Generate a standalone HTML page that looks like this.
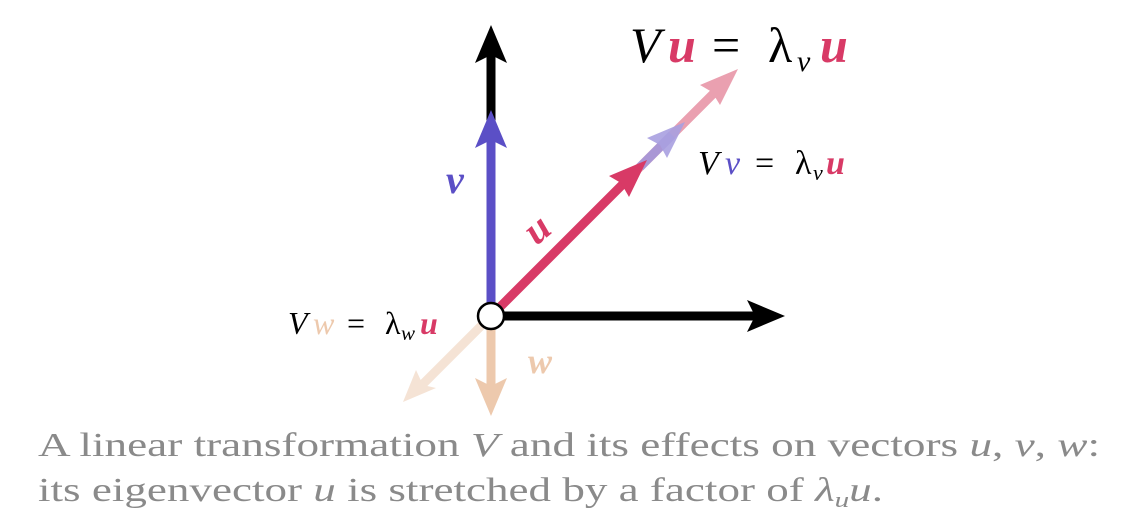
<!DOCTYPE html>
<html><head><meta charset="utf-8"><style>
html,body{margin:0;padding:0;background:#fff;width:1130px;height:529px;overflow:hidden}
text{font-family:"Liberation Serif",serif}
</style></head><body>
<svg width="1130" height="529" viewBox="0 0 1130 529">
<g id="vecs">
<line x1="491" y1="316" x2="418" y2="389" stroke="#f5e3d5" stroke-width="9"/>
<polygon points="403,402 416,370 423,385 436,388" fill="#f5e3d5"/>
<line x1="491" y1="316" x2="491" y2="390" stroke="#edc9ad" stroke-width="9"/>
<polygon points="491,416 475,378 491,386 507,378" fill="#edc9ad"/>
<line x1="491" y1="316" x2="491" y2="55" stroke="#000" stroke-width="9"/>
<polygon points="491,25 475,63 491,55 507,63" fill="#000"/>
<line x1="491" y1="316" x2="760" y2="316" stroke="#000" stroke-width="9"/>
<polygon points="785,316 747,300 755,316 747,332" fill="#000"/>
<line x1="491" y1="316" x2="491" y2="140" stroke="#5b4fc6" stroke-width="9"/>
<polygon points="491,110 475,148 491,140 507,148" fill="#5b4fc6"/>
<line x1="491" y1="316" x2="720" y2="87" stroke="#eaa0b0" stroke-width="9"/>
<polygon points="738,69 700,85 712,92 720,105" fill="#eaa0b0"/>
<line x1="640" y1="167" x2="672" y2="135" stroke="#9f95dc" stroke-opacity="0.85" stroke-width="9"/>
<polygon points="685,122 647,138 660,145 667,158" fill="#a8a0e0" fill-opacity="0.9"/>
<line x1="491" y1="316" x2="630" y2="177" stroke="#d83a66" stroke-width="9"/>
<polygon points="647,160 609,176 621,183 629,197" fill="#d83a66"/>
<circle cx="491" cy="316" r="13" fill="#fff" stroke="#000" stroke-width="2.5"/>
</g>
<text y="62" font-size="50" font-style="italic"><tspan x="630">V</tspan><tspan x="668" fill="#d83a66" font-weight="bold">u</tspan><tspan x="712" font-style="normal">=</tspan><tspan x="768" font-style="normal">λ</tspan><tspan x="797" font-size="30" dy="9">v</tspan><tspan x="820" fill="#d83a66" font-weight="bold" dy="-9">u</tspan></text>
<text y="174" font-size="34" font-style="italic"><tspan x="698">V</tspan><tspan x="725" fill="#5b4fc6">v</tspan><tspan x="755" font-style="normal">=</tspan><tspan x="795" font-style="normal">λ</tspan><tspan x="813" font-size="22" dy="6">v</tspan><tspan x="826" fill="#d83a66" font-weight="bold" dy="-6">u</tspan></text>
<text y="334" font-size="32" font-style="italic"><tspan x="288">V</tspan><tspan x="313" fill="#edc9ad">w</tspan><tspan x="347" font-style="normal">=</tspan><tspan x="385" font-style="normal">λ</tspan><tspan x="401" font-size="21" dy="6">w</tspan><tspan x="420" fill="#d83a66" font-weight="bold" dy="-6">u</tspan></text>
<text x="446" y="193" font-size="40" font-style="italic" font-weight="bold" fill="#5b4fc6">v</text>
<text x="527" y="240" font-size="40" font-style="italic" font-weight="bold" fill="#d83a66" transform="rotate(-40 540 230)">u</text>
<text x="528" y="373" font-size="36" font-style="italic" font-weight="bold" fill="#edc9ad">w</text>
<text x="38" y="456" font-size="34" fill="#8a8a8a" textLength="1062" lengthAdjust="spacingAndGlyphs">A linear transformation <tspan font-style="italic">V</tspan> and its effects on vectors <tspan font-style="italic">u</tspan>, <tspan font-style="italic">v</tspan>, <tspan font-style="italic">w</tspan>:</text>
<text x="38" y="501" font-size="34" fill="#8a8a8a" textLength="845" lengthAdjust="spacingAndGlyphs">its eigenvector <tspan font-style="italic">u</tspan> is stretched by a factor of <tspan font-style="italic">λ</tspan><tspan font-style="italic" font-size="22" dy="6">u</tspan><tspan font-style="italic" dy="-6">u</tspan>.</text>
</svg>
</body></html>
